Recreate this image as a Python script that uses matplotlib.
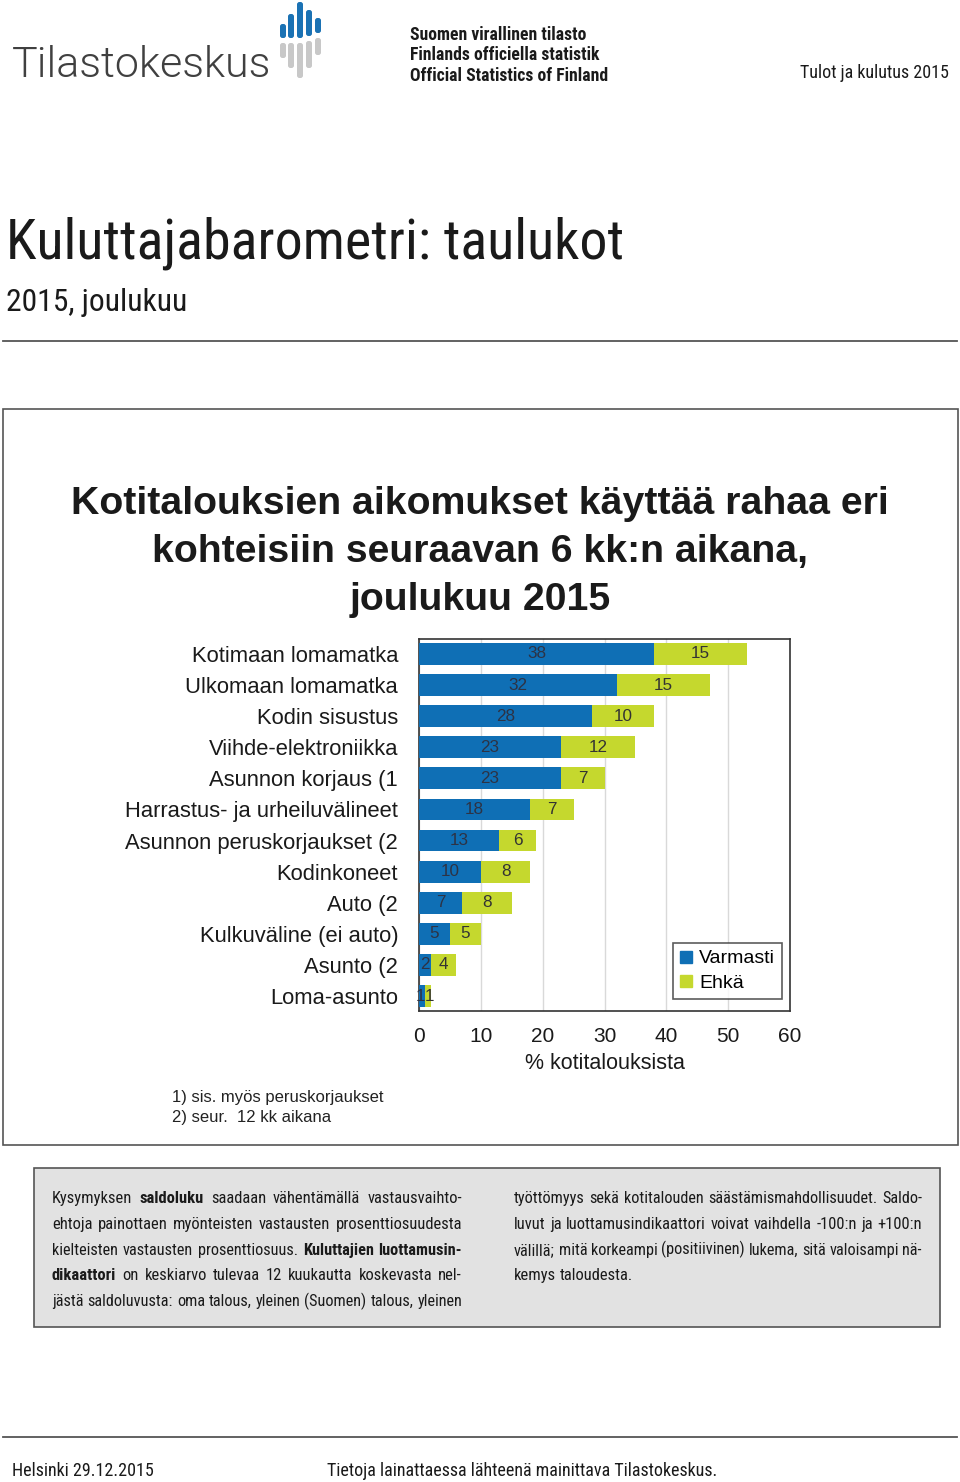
import matplotlib
matplotlib.use('Agg')
import matplotlib.pyplot as plt
from matplotlib.patches import Rectangle, FancyBboxPatch
from matplotlib.lines import Line2D

# ---------------- data ----------------
categories = ["Kotimaan lomamatka", "Ulkomaan lomamatka", "Kodin sisustus",
              "Viihde-elektroniikka", "Asunnon korjaus (1",
              "Harrastus- ja urheiluvälineet", "Asunnon peruskorjaukset (2",
              "Kodinkoneet", "Auto (2", "Kulkuväline (ei auto)", "Asunto (2",
              "Loma-asunto"]
varmasti = [38, 32, 28, 23, 23, 18, 13, 10, 7, 5, 2, 1]
ehka = [15, 15, 10, 12, 7, 7, 6, 8, 8, 5, 4, 1]
series_names = ["Varmasti", "Ehkä"]
x_ticks = [0, 10, 20, 30, 40, 50, 60]
x_label = "% kotitalouksista"
chart_title = ["Kotitalouksien aikomukset käyttää rahaa eri",
               "kohteisiin seuraavan 6 kk:n aikana,",
               "joulukuu 2015"]
footnotes = ["1) sis. myös peruskorjaukset", "2) seur.  12 kk aikana"]

left_col = [
    [("Kysymyksen", 0), ("saldoluku", 1), ("saadaan", 0), ("vähentämällä", 0), ("vastausvaihto-", 0)],
    [("ehtoja", 0), ("painottaen", 0), ("myönteisten", 0), ("vastausten", 0), ("prosenttiosuudesta", 0)],
    [("kielteisten", 0), ("vastausten", 0), ("prosenttiosuus.", 0), ("Kuluttajien", 1), ("luottamusin-", 1)],
    [("dikaattori", 1), ("on", 0), ("keskiarvo", 0), ("tulevaa", 0), ("12", 0), ("kuukautta", 0), ("koskevasta", 0), ("nel-", 0)],
    [("jästä", 0), ("saldoluvusta:", 0), ("oma", 0), ("talous,", 0), ("yleinen", 0), ("(Suomen)", 0), ("talous,", 0), ("yleinen", 0)],
]
right_col = [
    [("työttömyys", 0), ("sekä", 0), ("kotitalouden", 0), ("säästämismahdollisuudet.", 0), ("Saldo-", 0)],
    [("luvut", 0), ("ja", 0), ("luottamusindikaattori", 0), ("voivat", 0), ("vaihdella", 0), ("-100:n", 0), ("ja", 0), ("+100:n", 0)],
    [("välillä;", 0), ("mitä", 0), ("korkeampi", 0), ("(positiivinen)", 0), ("lukema,", 0), ("sitä", 0), ("valoisampi", 0), ("nä-", 0)],
    [("kemys", 0), ("taloudesta.", 0)],
]

BLUE = '#0F6FB5'
GREEN = '#C5D82E'
TXT = '#1a1a1a'
NARROW = ['Roboto Condensed', 'DejaVu Sans']
ARIAL = ['Liberation Sans', 'DejaVu Sans']

W, H = 960, 1482
fig = plt.figure(figsize=(W / 100, H / 100), dpi=100)
fig.patch.set_facecolor('white')

bg = fig.add_axes([0, 0, 1, 1])
bg.set_xlim(0, W)
bg.set_ylim(H, 0)
bg.axis('off')


def T(x, y, s, **kw):
    kw.setdefault('color', TXT)
    return bg.text(x, y, s, **kw)


# ---------------- header ----------------
T(12, 77, "Tilastokeskus", family=['Roboto', 'DejaVu Sans'], fontweight=300,
  fontsize=31, color='#404040', va='baseline', ha='left')
logo_x = [280, 288, 297, 306, 315]
logo_blue = [(24, 38), (14, 38), (2, 38), (10, 36), (18, 33)]
logo_gray = [(43, 58), (43, 68), (43, 78), (41, 68), (38, 55)]
for xx, (b0, b1), (g0, g1) in zip(logo_x, logo_blue, logo_gray):
    bg.add_patch(FancyBboxPatch((xx + 1, b0 + 1), 4, b1 - b0 - 2,
                                boxstyle='round,pad=1,rounding_size=2.5',
                                color='#1B72B4', lw=0))
    bg.add_patch(FancyBboxPatch((xx + 1, g0 + 1), 4, g1 - g0 - 2,
                                boxstyle='round,pad=1,rounding_size=2.5',
                                color='#C8C8C8', lw=0))

for i, s in enumerate(["Suomen virallinen tilasto", "Finlands officiella statistik",
                       "Official Statistics of Finland"]):
    T(410, 40 + i * 20.5, s, family=NARROW, fontweight='bold', fontsize=12.7,
      va='baseline', ha='left')
T(949, 78, "Tulot ja kulutus 2015", family=NARROW, fontsize=13, va='baseline', ha='right')

T(6, 258, "Kuluttajabarometri: taulukot", family=NARROW, fontsize=40.3,
  va='baseline', ha='left')
T(6, 311, "2015, joulukuu", family=NARROW, fontsize=22.8, va='baseline', ha='left')
bg.plot([3, 957], [341, 341], color='#555555', lw=1.3)

# ---------------- chart frame ----------------
bg.add_patch(Rectangle((3, 409), 955, 736, fill=False, ec='#555555', lw=1.2))
for i, s in enumerate(chart_title):
    T(480, 514 + i * 48, s, family=ARIAL, fontweight='bold', fontsize=28.3,
      ha='center', va='baseline')

ax_l, ax_r, ax_t, ax_b = 419, 790, 639, 1011
ax = fig.add_axes([ax_l / W, 1 - ax_b / H, (ax_r - ax_l) / W, (ax_b - ax_t) / H])
ypos = list(range(len(categories)))
ax.barh(ypos, varmasti, height=0.7, color=BLUE, label=series_names[0], zorder=3)
ax.barh(ypos, ehka, left=varmasti, height=0.7, color=GREEN, label=series_names[1], zorder=3)
for y, v, e in zip(ypos, varmasti, ehka):
    if v < 1.5 and e < 1.5:
        # tiny segments: labels side by side at the boundary, as in the reference
        ax.text(v, y, str(v), ha='right', va='center', fontsize=12.3,
                family=ARIAL, color='#2d3345', zorder=4)
        ax.text(v, y, str(e), ha='left', va='center', fontsize=12.3,
                family=ARIAL, color='#333333', zorder=4)
        continue
    ax.text(v / 2, y, str(v), ha='center', va='center', fontsize=12.3,
            family=ARIAL, color='#2d3345', zorder=4)
    ax.text(v + e / 2, y, str(e), ha='center', va='center', fontsize=12.3,
            family=ARIAL, color='#333333', zorder=4)
ax.set_xlim(0, 60)
ax.set_ylim(11.48, -0.48)
ax.set_xticks(x_ticks)
ax.set_xticklabels([str(t) for t in x_ticks], family=ARIAL, fontsize=15, color=TXT)
ax.set_yticks(ypos)
ax.set_yticklabels(categories, family=ARIAL, fontsize=15.8, color=TXT)
ax.tick_params(axis='y', length=0, pad=15)
ax.tick_params(axis='x', length=0, pad=11.5)
ax.xaxis.grid(True, color='#D9D9D9', lw=1, zorder=0)
ax.set_axisbelow(True)
for sp in ax.spines.values():
    sp.set_color('#333333')
    sp.set_linewidth(1.2)
ax.set_xlabel(x_label, family=ARIAL, fontsize=15.5, color=TXT, labelpad=5)

handles = [Line2D([], [], marker='s', ls='none', color=c, markersize=8)
           for c in (BLUE, GREEN)]
leg = ax.legend(handles, series_names, loc='upper left',
                bbox_to_anchor=(673 / W, 1 - 943 / H), bbox_transform=fig.transFigure,
                borderaxespad=0, frameon=True, fancybox=False, handlelength=0.6,
                handletextpad=0.4, borderpad=0.35, labelspacing=0.35,
                prop={'family': ARIAL, 'size': 14})
leg.get_frame().set_edgecolor('#333333')
leg.get_frame().set_linewidth(1.2)

for i, s in enumerate(footnotes):
    T(172, 1102 + i * 20, s, family=ARIAL, fontsize=12, va='baseline', ha='left',
      color='#222222')

# ---------------- text box ----------------
bg.add_patch(Rectangle((34, 1168), 906, 159, facecolor='#E2E2E2', ec='#555555', lw=1.2))
renderer = fig.canvas.get_renderer()
BOX_FS = 11.9


def justified(lines, x0, x1, y0, dy, last_justified):
    for li, line in enumerate(lines):
        y = y0 + li * dy
        fs = BOX_FS
        while True:
            objs = [T(0, y, word, family=NARROW, fontsize=fs,
                      fontweight='bold' if b else 'normal', va='baseline', ha='left')
                    for word, b in line]
            widths = [o.get_window_extent(renderer).width for o in objs]
            gap_j = (x1 - x0 - sum(widths)) / max(len(objs) - 1, 1)
            if gap_j >= 3 or fs < 10:
                break
            for o in objs:
                o.remove()
            fs -= 0.2
        t1 = T(0, y, "a a", family=NARROW, fontsize=fs)
        t2 = T(0, y, "aa", family=NARROW, fontsize=fs)
        w_sp = t1.get_window_extent(renderer).width - t2.get_window_extent(renderer).width
        t1.remove()
        t2.remove()
        justify = (li < len(lines) - 1) or last_justified
        gap = gap_j if (justify and len(objs) > 1) else w_sp
        x = x0
        for o, w in zip(objs, widths):
            o.set_x(x)
            x += w + gap


justified(left_col, 52, 462, 1203, 25.8, True)
justified(right_col, 514, 922, 1203, 25.8, False)

# ---------------- footer ----------------
bg.plot([3, 957], [1437, 1437], color='#555555', lw=1.3)
T(12, 1476, "Helsinki 29.12.2015", family=NARROW, fontsize=13, va='baseline', ha='left')
T(327, 1476, "Tietoja lainattaessa lähteenä mainittava Tilastokeskus.", family=NARROW,
  fontsize=13, va='baseline', ha='left')

fig.savefig('out.png', dpi=100, facecolor='white')
